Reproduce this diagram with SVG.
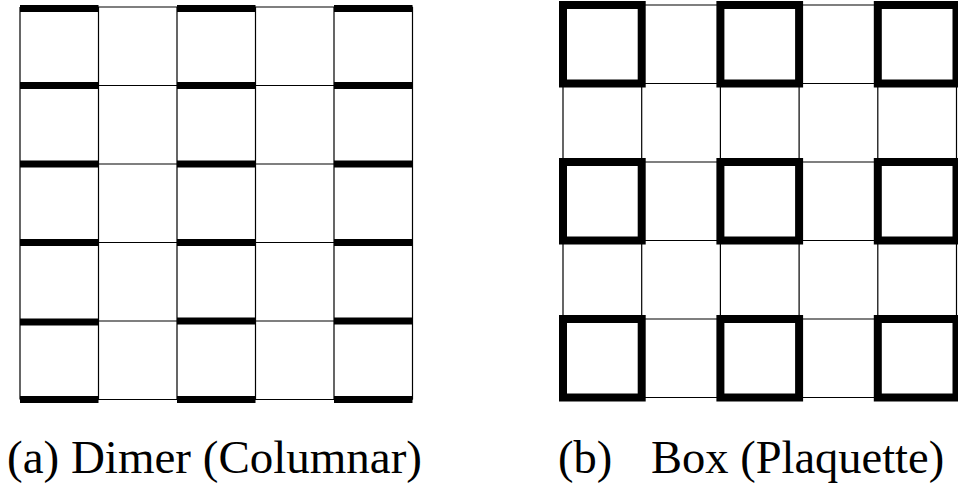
<svg xmlns="http://www.w3.org/2000/svg" width="958" height="487" viewBox="0 0 958 487">
<defs>
<style>
.thin{stroke:#000;stroke-width:1.2;fill:none}
.dimer{stroke:#000;stroke-width:7;stroke-linecap:butt}
.plaq{stroke:#000;stroke-width:8;fill:none}
.lbl{font-family:"Liberation Serif","Times New Roman",serif;font-size:46.5px;fill:#000}
</style>
</defs>
<rect width="958" height="487" fill="#fff"/>
<g id="grid-a">
<g id="grid-a-lines" class="thin">
<path d="M20,7V399.5M98.5,7V399.5M177,7V399.5M255.5,7V399.5M334,7V399.5M412.5,7V399.5"/>
<path d="M20,7H412.5M20,85.5H412.5M20,164H412.5M20,242.5H412.5M20,321H412.5M20,399.5H412.5"/>
</g>
<g id="dimers" class="dimer">
<path d="M20,8.5H98.5M177,8.5H255.5M334,8.5H412.5"/>
<path d="M20,85.5H98.5M177,85.5H255.5M334,85.5H412.5"/>
<path d="M20,164H98.5M177,164H255.5M334,164H412.5"/>
<path d="M20,242.5H98.5M177,242.5H255.5M334,242.5H412.5"/>
<path d="M20,322H98.5M177,321H255.5M334,321H412.5"/>
<path d="M20,399.5H98.5M177,399.5H255.5M334,399.5H412.5"/>
</g>
</g>
<g id="grid-b">
<g id="grid-b-lines" class="thin">
<path d="M563,5V397.5M641.7,5V397.5M720.4,5V397.5M799.1,5V397.5M877.8,5V397.5M956.5,5V397.5"/>
<path d="M563,5H956.5M563,83.5H956.5M563,162H956.5M563,240.5H956.5M563,319H956.5M563,397.5H956.5"/>
</g>
<g id="plaquettes" class="plaq">
<rect x="563" y="5" width="78.7" height="78.5"/>
<rect x="720.4" y="5" width="78.7" height="78.5"/>
<rect x="877.8" y="5" width="78.7" height="78.5"/>
<rect x="563" y="162" width="78.7" height="78.5"/>
<rect x="720.4" y="162" width="78.7" height="78.5"/>
<rect x="877.8" y="162" width="78.7" height="78.5"/>
<rect x="563" y="319" width="78.7" height="78.5"/>
<rect x="720.4" y="319" width="78.7" height="78.5"/>
<rect x="877.8" y="319" width="78.7" height="78.5"/>
</g>
</g>
<g id="labels">
<text class="lbl" x="7" y="473" style="font-size:47px">(a) Dimer (Columnar)</text>
<text class="lbl" x="558" y="473">(b)</text>
<text class="lbl" x="651" y="473">Box (Plaquette)</text>
</g>
</svg>
